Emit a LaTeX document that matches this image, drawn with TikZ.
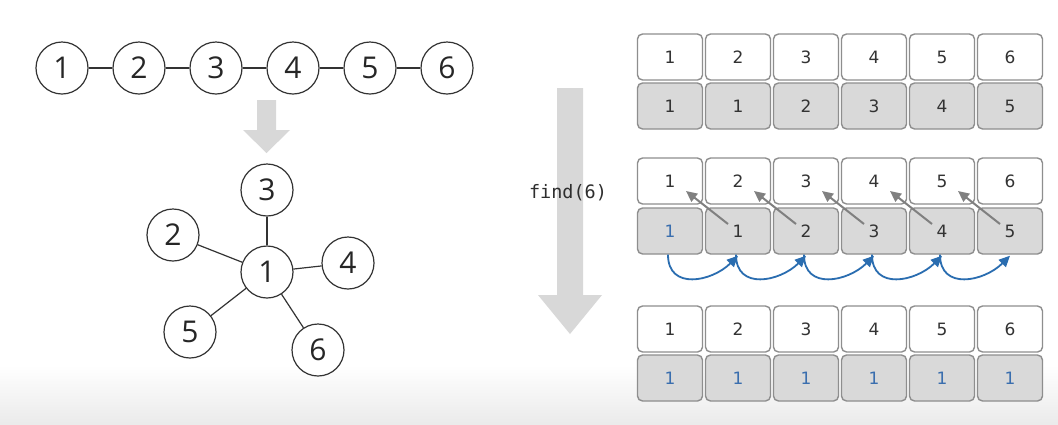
\documentclass[tikz,border=0pt]{standalone}
\usepackage{fontspec}
\usetikzlibrary{arrows.meta,calc}
\newfontfamily\circfont{Open Sans}
\newfontfamily\boxfont{DejaVu Sans}
\newfontfamily\codefont{DejaVu Sans Mono}
\definecolor{boxgray}{HTML}{D9D9D9}
\definecolor{boxline}{HTML}{8E8E8E}
\definecolor{arrowgray}{HTML}{D8D8D8}
\definecolor{txt}{HTML}{333333}
\definecolor{bluetxt}{HTML}{3A6EAE}
\definecolor{bluearr}{HTML}{2A6DB0}
\definecolor{ptrgray}{HTML}{808080}
\tikzset{
  circ/.style={circle, draw=black!80, line width=1.2pt, minimum size=52pt, inner sep=0pt,
    fill=white, text=black!85, font=\circfont\fontsize{30}{30}\selectfont},
  edge/.style={draw=black!80, line width=1.2pt},
  wbox/.style={rectangle, rounded corners=5pt, draw=boxline, line width=1.4pt, fill=white,
    minimum width=65pt, minimum height=46pt, inner sep=0pt, text=txt,
    font=\boxfont\fontsize{17}{17}\selectfont},
  gbox/.style={wbox, fill=boxgray},
  bluenum/.style={text=bluetxt},
  ptr/.style={draw=ptrgray, line width=2pt, -{Triangle[length=11pt,width=10pt]}},
  hop/.style={draw=bluearr, line width=1.8pt, -{Triangle[length=11pt,width=10pt]}},
  bigarrow/.style={fill=arrowgray, draw=none}
}
\begin{document}
\begin{tikzpicture}[x=1pt,y=-1pt]
\useasboundingbox (0,0) rectangle (1058,424);
\fill[white] (0,0) rectangle (1058,424);
\shade[top color=white, bottom color=black!8] (0,365) rectangle (1058,424);

% chain
\foreach \i/\x in {1/62,2/139,3/216,4/293,5/370,6/447}
  \node[circ] (c\i) at (\x,68) {\i};
\foreach \a/\b in {1/2,2/3,3/4,4/5,5/6}
  \draw[edge] (c\a) -- (c\b);

% small arrow
\fill[bigarrow] (257,100) -- (276,100) -- (276,130) -- (290,130) -- (266.5,153) -- (243,130) -- (257,130) -- cycle;

% star
\node[circ] (s1) at (267,272) {1};
\node[circ] (s3) at (267,190) {3};
\node[circ] (s2) at (173,235) {2};
\node[circ] (s4) at (348,263) {4};
\node[circ] (s5) at (190,332) {5};
\node[circ] (s6) at (318,350) {6};
\foreach \b in {2,3,4,5,6}
  \draw[edge] (s1) -- (s\b);

% big arrow
\fill[bigarrow] (557,88) -- (583,88) -- (583,295) -- (602,295) -- (570,334) -- (538,295) -- (557,295) -- cycle;
\node[text=black!82, font=\codefont\fontsize{18.5}{18.5}\selectfont] (find) at (568,193) {find(6)};

% row 1
\foreach \i/\x/\p in {1/670/1,2/738/1,3/806/2,4/874/3,5/942/4,6/1010/5}{
  \node[wbox] (aw\i) at (\x,57) {\i};
  \node[gbox] (ag\i) at (\x,106) {\p};
}
% row 2
\foreach \i/\x/\p in {1/670/1,2/738/1,3/806/2,4/874/3,5/942/4,6/1010/5}{
  \node[wbox] (bw\i) at (\x,181) {\i};
}
\node[gbox] (bg1) at (670,231) {\textcolor{bluetxt}{1}};
\foreach \i/\x/\p in {2/738/1,3/806/2,4/874/3,5/942/4,6/1010/5}{
  \node[gbox] (bg\i) at (\x,231) {\p};
}
\foreach \a/\b in {2/1,3/2,4/3,5/4,6/5}
  \draw[ptr] ($(bg\a.center)+(-10,-7)$) -- ($(bw\b.center)+(16,10)$);
\foreach \a/\b in {1/2,2/3,3/4,4/5,5/6}
  \draw[hop] ($(bg\a.south)+(-2,0)$) .. controls +(0,36) and +(-26,26) .. ($(bg\b.south)+(0,1)$);

% row 3
\foreach \i/\x in {1/670,2/738,3/806,4/874,5/942,6/1010}{
  \node[wbox] (cw\i) at (\x,329) {\i};
  \node[gbox, bluenum] (cg\i) at (\x,378) {1};
}
\end{tikzpicture}
\end{document}
